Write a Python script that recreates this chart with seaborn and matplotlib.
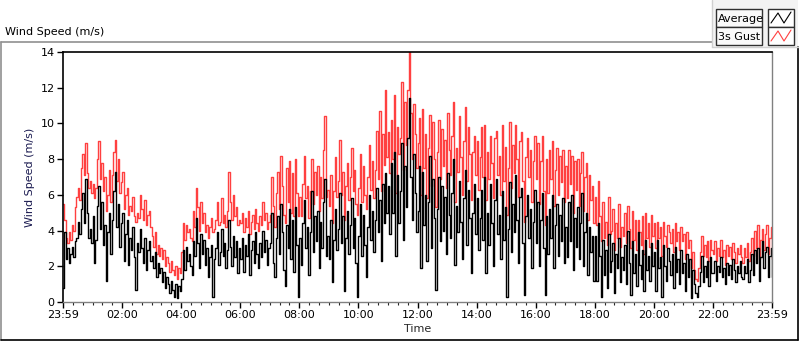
import numpy as np
import pandas as pd
import matplotlib
matplotlib.use("Agg")
import matplotlib.pyplot as plt
from matplotlib.patches import Rectangle
from matplotlib.lines import Line2D
import seaborn as sns

# 3-minute samples, hours 0..24 (one line per hour)
avg = [
    0.8, 3.9, 2.4, 3.0, 2.2, 2.7, 3.1, 2.5, 3.4, 3.6, 4.5, 3.8, 5.2, 6.1, 4.4, 6.9, 5.0, 3.6, 4.1, 3.3,
    4.8, 2.2, 3.5, 5.4, 6.5, 4.1, 5.6, 3.2, 4.3, 1.2, 3.9, 5.0, 2.7, 4.6, 6.2, 7.3, 4.2, 5.5, 3.1, 4.4,
    5.0, 2.3, 3.8, 4.6, 2.1, 3.6, 2.9, 4.2, 2.5, 0.7, 3.3, 2.8, 4.1, 3.0, 2.2, 3.6, 1.8, 2.9, 3.4, 2.3,
    2.6, 1.9, 2.8, 1.4, 2.2, 1.6, 1.9, 1.1, 1.7, 0.8, 1.4, 1.0, 0.5, 1.2, 0.7, 0.3, 1.0, 0.2, 0.9, 0.6,
    1.3, 2.9, 1.8, 3.1, 2.3, 2.7, 2.0, 1.5, 3.4, 2.6, 4.7, 3.3, 1.9, 3.8, 2.7, 3.5, 2.1, 3.0, 1.4, 2.5,
    3.2, 0.3, 2.4, 3.0, 3.9, 2.1, 2.8, 4.1, 2.6, 3.3, 1.9, 2.9, 4.6, 3.1, 2.0, 3.7, 2.5, 3.4, 1.6, 3.0,
    2.4, 3.6, 1.7, 3.2, 2.6, 3.8, 1.5, 2.9, 3.4, 2.2, 3.9, 2.7, 1.9, 3.3, 2.5, 4.0, 2.8, 3.5, 2.1, 3.0,
    3.3, 5.0, 2.2, 1.4, 3.6, 4.8, 2.7, 5.5, 3.9, 1.8, 0.9, 4.3, 3.0, 5.2, 2.4, 4.6, 1.7, 5.3, 3.2, 0.3,
    3.6, 2.1, 4.4, 5.7, 3.0, 4.2, 1.5, 3.9, 6.2, 2.8, 4.8, 3.4, 5.1, 1.9, 4.5, 3.0, 5.6, 6.9, 2.6, 3.7,
    2.4, 4.6, 1.1, 3.5, 5.2, 2.9, 4.1, 6.1, 3.3, 4.8, 0.6, 3.6, 5.1, 2.7, 4.3, 5.8, 3.0, 4.7, 2.2, 0.3,
    3.7, 5.5, 2.6, 4.9, 3.2, 1.4, 4.2, 6.0, 3.5, 5.1, 2.8, 4.6, 6.4, 3.9, 5.7, 2.3, 6.6, 4.4, 7.2, 5.0,
    6.5, 3.8, 7.8, 5.0, 8.4, 2.6, 7.1, 4.4, 6.2, 8.9, 3.5, 7.6, 5.3, 9.2, 11.4, 7.0, 4.6, 8.3, 6.1, 3.9,
    5.1, 7.6, 1.9, 7.3, 4.3, 6.0, 2.3, 5.6, 8.2, 3.0, 6.9, 4.7, 0.7, 5.2, 7.0, 3.4, 6.5, 4.0, 5.9, 2.7,
    7.2, 4.9, 3.6, 6.1, 8.0, 2.1, 5.4, 3.9, 6.8, 4.5, 2.4, 5.8, 7.4, 3.2, 6.3, 4.7, 1.6, 5.0, 6.6, 3.8,
    5.8, 2.9, 4.7, 6.3, 3.5, 7.0, 1.6, 5.0, 3.2, 6.6, 4.4, 2.0, 5.7, 6.9, 3.8, 4.9, 2.4, 6.2, 3.5, 5.3,
    0.3, 4.1, 6.7, 2.8, 5.5, 3.9, 7.1, 4.6, 2.2, 5.9, 6.4, 3.3, 0.4, 4.8, 6.0, 3.6, 5.2, 1.9, 4.5, 6.3,
    3.3, 5.6, 2.0, 4.6, 6.1, 3.0, 0.4, 4.8, 2.7, 5.2, 3.6, 6.0, 1.9, 4.3, 5.5, 2.6, 4.9, 3.4, 5.8, 2.2,
    4.2, 2.5, 5.6, 3.4, 6.0, 1.8, 4.7, 3.1, 5.3, 2.4, 4.4, 6.1, 2.0, 3.9, 5.0, 1.5, 4.2, 2.8, 3.7, 1.2,
    3.7, 1.2, 4.4, 2.6, 0.3, 3.5, 1.5, 2.9, 0.8, 3.8, 1.7, 2.3, 3.3, 0.5, 2.7, 1.9, 3.6, 1.1, 2.5, 1.8,
    3.2, 1.0, 4.0, 2.2, 0.4, 3.4, 1.6, 2.7, 0.9, 3.9, 2.1, 1.3, 2.9, 0.6, 3.5, 1.8, 2.6, 1.2, 3.3, 2.0,
    2.8, 0.6, 3.5, 1.9, 2.5, 0.3, 3.2, 2.0, 1.2, 3.0, 2.3, 1.5, 2.7, 0.8, 3.1, 1.7, 2.4, 1.0, 2.9, 1.6,
    2.2, 0.6, 2.7, 1.4, 2.4, 0.2, 1.8, 1.0, 0.5, 0.3, 0.9, 1.7, 2.6, 1.1, 2.0, 1.4, 2.3, 0.9, 2.5, 1.6,
    1.6, 2.3, 1.2, 2.0, 1.7, 2.5, 1.4, 1.9, 1.0, 2.2, 1.5, 2.1, 1.3, 2.4, 1.8, 1.1, 2.0, 1.6, 2.3, 1.4,
    1.3, 2.0, 1.6, 2.4, 1.1, 1.8, 2.7, 1.5, 2.9, 2.2, 3.0, 1.2, 2.5, 3.4, 1.9, 2.8, 3.1, 1.4, 2.6, 3.0,
    1.4,
]
gust = [
    5.5, 4.6, 3.6, 3.3, 3.9, 3.5, 4.3, 4.0, 5.3, 5.9, 6.4, 5.7, 7.5, 8.3, 7.1, 8.9, 7.2, 6.4, 6.8, 6.1,
    6.6, 5.8, 6.4, 8.0, 9.0, 6.9, 7.8, 6.2, 7.0, 5.1, 6.0, 7.4, 5.6, 7.1, 8.4, 9.1, 6.8, 8.0, 6.1, 6.7,
    7.3, 5.2, 6.0, 6.4, 4.9, 5.4, 5.1, 5.9, 4.8, 4.5, 5.0, 4.7, 6.0, 5.2, 4.6, 5.7, 4.3, 4.9, 5.1, 4.2,
    3.7, 3.1, 3.9, 2.7, 3.2, 2.6, 3.0, 2.4, 2.9, 2.0, 2.5, 2.2, 1.7, 2.3, 1.8, 1.5, 2.0, 1.3, 1.9, 1.6,
    2.8, 4.4, 3.5, 4.3, 3.9, 4.1, 3.6, 3.4, 5.1, 4.2, 6.4, 5.3, 4.0, 5.6, 4.4, 5.0, 3.9, 4.3, 3.6, 4.2,
    4.7, 3.9, 4.1, 4.6, 5.6, 4.3, 4.5, 5.8, 4.4, 4.9, 4.2, 5.1, 7.3, 5.6, 4.6, 6.0, 4.8, 5.3, 4.3, 4.6,
    4.4, 5.0, 3.9, 4.7, 4.2, 5.1, 3.8, 4.5, 4.9, 4.1, 5.2, 4.4, 4.0, 4.8, 4.3, 5.6, 4.6, 5.0, 4.1, 4.5,
    4.9, 7.0, 5.4, 4.2, 6.1, 7.3, 5.2, 8.2, 6.5, 4.9, 4.4, 7.5, 5.6, 7.9, 5.0, 7.2, 4.8, 8.0, 6.1, 4.8,
    5.9, 4.8, 6.6, 8.2, 5.8, 6.5, 4.7, 6.2, 8.0, 5.5, 7.3, 6.0, 7.6, 5.1, 7.0, 5.8, 8.5, 10.4, 5.9, 6.3,
    5.4, 7.1, 4.4, 6.2, 8.1, 5.9, 6.8, 9.1, 6.0, 7.3, 4.6, 6.5, 7.8, 5.7, 7.0, 8.6, 6.2, 7.4, 5.5, 4.9,
    6.4, 8.3, 5.6, 7.6, 6.0, 5.2, 7.0, 8.8, 6.3, 7.9, 5.8, 7.4, 9.6, 6.9, 10.7, 6.2, 9.4, 7.7, 11.9, 8.1,
    9.5, 7.2, 10.2, 8.0, 11.6, 6.1, 9.8, 8.3, 9.2, 12.3, 7.4, 11.2, 8.8, 11.9, 14.0, 10.6, 8.0, 11.1, 9.4, 7.5,
    8.9, 10.3, 6.0, 10.8, 7.5, 9.4, 5.8, 8.6, 10.5, 6.5, 10.1, 8.0, 5.3, 8.4, 10.2, 6.9, 9.7, 7.6, 9.1, 6.4,
    10.6, 8.5, 7.1, 9.3, 11.2, 5.6, 8.6, 7.3, 10.4, 8.1, 6.0, 9.0, 10.9, 6.8, 9.8, 8.3, 5.7, 8.4, 9.3, 7.1,
    9.0, 6.3, 8.1, 9.8, 7.0, 9.9, 5.7, 8.4, 6.9, 9.3, 7.8, 5.8, 9.2, 9.6, 7.1, 8.2, 6.0, 9.9, 6.8, 8.7,
    4.9, 7.5, 10.1, 6.4, 8.8, 7.2, 9.9, 8.0, 5.9, 9.0, 9.5, 6.8, 4.5, 8.1, 9.2, 7.0, 8.5, 5.6, 7.9, 9.3,
    6.9, 8.9, 5.5, 7.9, 9.3, 6.2, 4.3, 8.0, 6.1, 8.5, 6.9, 9.0, 5.4, 7.4, 8.6, 6.0, 8.2, 6.7, 8.5, 5.6,
    7.6, 5.8, 8.5, 6.6, 8.2, 5.0, 7.9, 6.3, 8.0, 5.4, 7.2, 8.4, 5.1, 7.0, 7.8, 4.6, 7.1, 5.7, 6.5, 4.4,
    5.9, 4.3, 6.8, 4.8, 3.4, 5.6, 3.6, 4.5, 3.2, 5.9, 3.8, 4.0, 5.2, 2.9, 4.4, 3.6, 5.5, 3.1, 4.2, 3.7,
    5.0, 3.3, 5.4, 4.1, 3.0, 5.1, 3.5, 4.6, 2.9, 4.6, 3.9, 3.2, 4.8, 2.7, 5.0, 3.6, 4.4, 3.1, 4.9, 3.7,
    4.4, 3.0, 4.5, 3.6, 4.2, 2.6, 4.5, 3.7, 3.1, 4.3, 3.9, 3.3, 4.1, 2.8, 4.4, 3.4, 3.9, 2.9, 4.2, 3.4,
    3.8, 2.4, 3.9, 3.0, 3.5, 1.9, 2.8, 1.8, 1.3, 1.2, 1.9, 2.8, 3.7, 2.6, 3.2, 2.5, 3.4, 2.3, 3.5, 2.9,
    2.7, 3.4, 2.3, 3.0, 2.6, 3.5, 2.5, 2.9, 2.1, 3.2, 2.6, 3.1, 2.4, 3.3, 2.8, 2.2, 3.0, 2.7, 3.2, 2.5,
    2.2, 3.0, 2.5, 3.3, 2.3, 2.8, 3.6, 2.6, 4.0, 3.0, 4.3, 2.4, 3.5, 4.1, 2.9, 3.8, 4.3, 2.7, 3.6, 4.2,
    2.4,
]
step_minutes = 3
tick_hours = [0, 2, 4, 6, 8, 10, 12, 14, 16, 18, 20, 22, 24]
tick_labels = ["23:59", "02:00", "04:00", "06:00", "08:00", "10:00", "12:00",
               "14:00", "16:00", "18:00", "20:00", "22:00", "23:59"]
y_ticks = [0, 2, 4, 6, 8, 10, 12, 14]

n = min(len(avg), len(gust))
hours = np.arange(n) * step_minutes / 60.0
df = pd.concat([
    pd.DataFrame({"Time": hours, "Speed": gust[:n], "Series": "3s Gust"}),
    pd.DataFrame({"Time": hours, "Speed": avg[:n], "Series": "Average"}),
])

sns.set_style("white")
plt.rcParams["font.family"] = ["DejaVu Sans"]

fig = plt.figure(figsize=(8, 3.42), dpi=100)
fig.patch.set_facecolor("white")
ax = fig.add_axes([63 / 800, 40 / 342, (772 - 63) / 800, (302 - 52) / 342])

sns.lineplot(data=df, x="Time", y="Speed", hue="Series",
             palette={"3s Gust": "#ff4040", "Average": "#000000"},
             hue_order=["3s Gust", "Average"], estimator=None,
             drawstyle="steps-post", linewidth=1.0, legend=False, ax=ax)

ax.set_xlim(0, 24)
ax.set_ylim(0, 14)
ax.set_xticks(tick_hours)
ax.set_xticklabels(tick_labels)
ax.set_xticks(np.arange(0, 24.01, 1 / 3), minor=True)
ax.set_yticks(y_ticks)
ax.tick_params(axis="both", which="major", direction="out", length=4, width=1,
               labelsize=8, colors="black", pad=2, bottom=True, left=True)
ax.tick_params(axis="x", which="minor", direction="out", length=2.5, width=0.8,
               bottom=True)
ax.set_xlabel("Time", fontsize=8, labelpad=3)
ax.set_ylabel("Wind Speed (m/s)", fontsize=8, color="#1a1a50", labelpad=4)
for s in ["left", "top"]:
    ax.spines[s].set_color("black")
    ax.spines[s].set_linewidth(1.2)
for s in ["right", "bottom"]:
    ax.spines[s].set_color("#808080")
    ax.spines[s].set_linewidth(1.0)

def px(x, y):
    return x / 800, 1 - y / 342

# outer frame
fig.add_artist(Line2D([px(1, 0)[0], px(712, 0)[0]], [px(0, 42)[1]] * 2,
                      color="#909090", lw=1.2))
fig.add_artist(Line2D([px(1, 0)[0]] * 2, [px(0, 42)[1], px(0, 340)[1]],
                      color="#909090", lw=1.2))
fig.add_artist(Line2D([px(1, 0)[0], px(798, 0)[0]], [px(0, 340)[1]] * 2,
                      color="black", lw=1.2))
fig.add_artist(Line2D([px(798, 0)[0]] * 2, [px(0, 47)[1], px(0, 340)[1]],
                      color="black", lw=1.2))

fig.text(5 / 800, 1 - 32 / 342, "Wind Speed (m/s)", fontsize=8,
         va="center", ha="left", color="black")

# legend panel
fig.add_artist(Rectangle(px(712, 47), 86 / 800, 47 / 342, facecolor="#f3f3f3",
                         edgecolor="none"))
fig.add_artist(Line2D([px(712, 0)[0]] * 2, [px(0, 0)[1], px(0, 47)[1]],
                      color="#d0d0d0", lw=1))
fig.add_artist(Line2D([px(712, 0)[0], px(798, 0)[0]], [px(0, 47)[1]] * 2,
                      color="#d0d0d0", lw=1))
entries = [("Average", "black", 9), ("3s Gust", "#ff4040", 27)]
for name, col, top in entries:
    fig.add_artist(Rectangle(px(716, top + 18), 46 / 800, 18 / 342,
                             facecolor="#fafafa", edgecolor="#303030", lw=1))
    fig.text(718 / 800, 1 - (top + 9.5) / 342, name, fontsize=8,
             va="center", ha="left", color="black")
    fig.add_artist(Rectangle(px(768, top + 18), 26 / 800, 18 / 342,
                             facecolor="white", edgecolor="#303030", lw=1))
    zx = [771, 778, 784, 791]
    zy = [top + 14, top + 4, top + 14, top + 3]
    fig.add_artist(Line2D([x / 800 for x in zx], [1 - y / 342 for y in zy],
                          color=col, lw=0.8))

fig.savefig("out.png", dpi=100)
